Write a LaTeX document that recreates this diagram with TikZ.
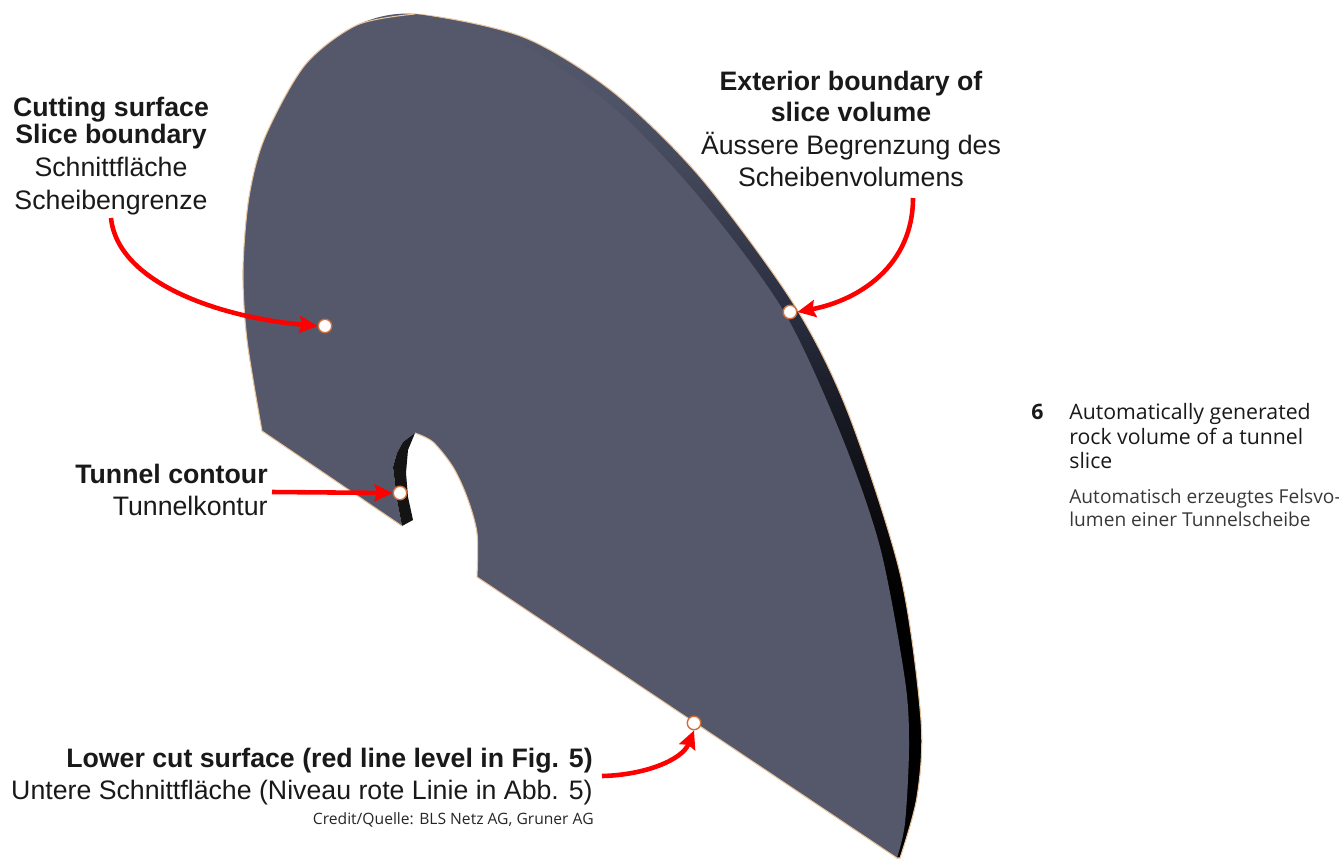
\documentclass[tikz,border=0pt]{standalone}
\usepackage{fontspec}
\setmainfont{Liberation Sans}
\newfontfamily\capfont{Open Sans}
\usetikzlibrary{arrows.meta,positioning}
\definecolor{slface}{RGB}{85,88,106}
\definecolor{sledge}{RGB}{232,196,158}
\definecolor{mkedge}{RGB}{205,110,60}
\pgfdeclareverticalshading{slband}{100bp}{rgb(0bp)=(0,0,0); rgb(40bp)=(0,0,0); rgb(46bp)=(.05,.05,.07); rgb(52bp)=(.10,.11,.15); rgb(57.5bp)=(.165,.18,.25); rgb(65bp)=(.25,.27,.34); rgb(70bp)=(.31,.33,.41); rgb(75bp)=(.33,.345,.415); rgb(100bp)=(.33,.345,.415)}
\tikzset{
  lbl/.style={font=\fontsize{15.2pt}{15.6pt}\selectfont, text=black!90, inner sep=0pt, align=center},
  marker/.style={draw=mkedge, fill=white, circle, line width=0.8pt, minimum size=0.27cm, inner sep=0pt},
  redarrow/.style={draw=red, line width=2.6pt, -{Stealth[length=0.36cm,width=0.34cm,inset=0.05cm]}},
  capnode/.style={font=\capfont\fontsize{12.1pt}{14pt}\selectfont, text=black!90, inner sep=0pt, anchor=base west, align=left},
}
\begin{document}
\begin{tikzpicture}[x=0.02cm,y=-0.02cm]
\useasboundingbox (0,0) rectangle (1339,859);
% Side band of the slice, seen behind the cut face
\begin{scope}
\clip (415,0) rectangle (1000,859);
\shade[shading=slband, draw=sledge, line width=0.6pt]
  plot[smooth] coordinates {(357,25) (415,14) (523,37) (613,92) (700,177) (793,303) (847,410) (900,573) (921,720) (917,797) (900,858)}
  -- (897,858) -- (500,500) -- cycle;
\end{scope}
% Cut face of the slice
\fill[slface] plot[smooth] coordinates {(262,431) (247,340) (243,270) (249,197) (265,137) (305,65) (357,25) (415,14) (513,40) (613,107) (700,198) (783,310) (840,432) (880,547) (905,680) (909,747) (905,823) (897,858)}
  -- (477,577) -- plot[smooth] coordinates {(477,577) (477,533) (467,497) (453,467) (433,442) (415,433)}
  -- (403,442) -- (397,453) -- (393,467) -- (397,500) -- (402,526) -- cycle;
% Black wall of the tunnel
\fill[black!92] (402,526) -- (413,520) -- (408,497) -- (406,473) -- (408,450) -- (415,433) -- (403,442) -- (397,453) -- (393,467) -- (397,500) -- cycle;
% Thin light edges
\draw[sledge, line width=0.6pt] (402,526) -- (262,431) -- plot[smooth] coordinates {(262,431) (247,340) (243,270) (249,197) (265,137) (305,65) (357,25) (415,14)};
\draw[sledge, line width=0.6pt] plot[smooth] coordinates {(415,433) (433,442) (453,467) (467,497) (477,533) (477,577)} -- (897,858);

% Labels
\node[lbl] (cutlbl) at (111,156) {\textbf{Cutting surface}\\\textbf{Slice boundary}\\[3pt]Schnittfläche\\[3pt]Scheibengrenze};
\node[lbl] (extlbl) at (851,129) {\textbf{Exterior boundary of}\\[2pt]\textbf{slice volume}\\[3pt]Äussere Begrenzung des\\[3pt]Scheibenvolumens};
\node[lbl, anchor=east, align=right] (tunlbl) at (268,490) {\textbf{Tunnel contour}\\[3pt]Tunnelkontur};
\node[lbl, anchor=east, align=right] (lowlbl) at (593,777) {\textbf{Lower cut surface (red line level in Fig. 5)}\\[2.6pt]Untere Schnittfläche (Niveau rote Linie in Abb. 5)};
\node[font=\capfont\fontsize{8.9pt}{10pt}\selectfont, text=black!85, inner sep=0pt, anchor=east] (credit) at (594,820) {Credit/Quelle: BLS Netz AG, Gruner AG};

% Caption
\node[capnode, font=\capfont\bfseries\fontsize{12.1pt}{14pt}\selectfont] (capnum) at (1031,419) {6};
\node[capnode, anchor=north west] (capen) at (1069,403) {Automatically generated\\rock volume of a tunnel\\slice};
\node[capnode, anchor=north west, text=black!78, font=\capfont\fontsize{10.9pt}{13pt}\selectfont] (capde) at (1069,489) {Automatisch erzeugtes Felsvo-\\lumen einer Tunnelscheibe};

% Markers and arrows
\node[marker] (ptcut) at (325,326) {};
\node[marker] (ptext) at (790,312) {};
\node[marker] (pttun) at (400,493) {};
\node[marker] (ptlow) at (694,723) {};
\coordinate (cutstart) at (111,218);
\coordinate (extstart) at (913,198);
\coordinate (tunstart) at (272,492);
\coordinate (lowstart) at (602,776);
\draw[redarrow] (cutstart) .. controls (118,285) and (225,318) .. (ptcut.west);
\draw[redarrow] (extstart) .. controls (913,265) and (860,300) .. (ptext.east);
\draw[redarrow] (tunstart) -- (pttun.west);
\draw[redarrow] (lowstart) .. controls (645,775) and (682,760) .. (ptlow.south);
\end{tikzpicture}
\end{document}
